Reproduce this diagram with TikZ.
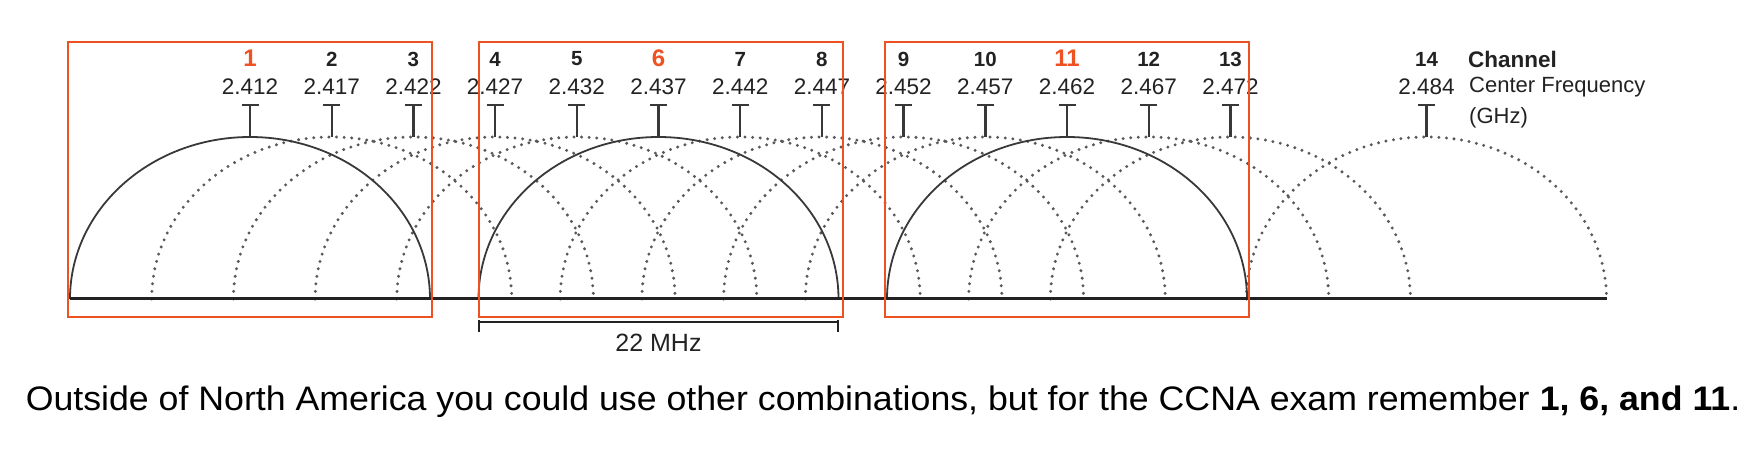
\documentclass[tikz,border=0pt]{standalone}
\usepackage{fontspec}
\setmainfont{Liberation Sans}
\definecolor{chanred}{RGB}{238,82,34}
\definecolor{ink}{RGB}{34,34,34}

\begin{document}
\begin{tikzpicture}[x=1pt,y=1pt,
  lobe/.style={ink!90, line width=1.8pt},
  sidelobe/.style={black!65, line width=3.3pt, line cap=round, dash pattern=on 0pt off 7.6pt},
  tmark/.style={ink!90, line width=2.4pt},
  chnum/.style={font=\fontsize{20.5}{22}\selectfont\bfseries, text=ink, inner sep=0pt},
  chpick/.style={font=\fontsize{24}{26}\selectfont\bfseries, text=chanred, inner sep=0pt},
  chfreq/.style={font=\fontsize{22.5}{24}\selectfont, text=ink, inner sep=0pt},
  pick/.style={draw=chanred, line width=2.4pt}]
\useasboundingbox (0,0) rectangle (1760,449);
% overlapping channels (dotted)
\draw[sidelobe] (151.7,150) arc[start angle=180, end angle=0, x radius=180, y radius=162];
\draw[sidelobe] (233.4,150) arc[start angle=180, end angle=0, x radius=180, y radius=162];
\draw[sidelobe] (315.1,150) arc[start angle=180, end angle=0, x radius=180, y radius=162];
\draw[sidelobe] (396.8,150) arc[start angle=180, end angle=0, x radius=180, y radius=162];
\draw[sidelobe] (560.2,150) arc[start angle=180, end angle=0, x radius=180, y radius=162];
\draw[sidelobe] (641.9,150) arc[start angle=180, end angle=0, x radius=180, y radius=162];
\draw[sidelobe] (723.6,150) arc[start angle=180, end angle=0, x radius=180, y radius=162];
\draw[sidelobe] (805.3,150) arc[start angle=180, end angle=0, x radius=180, y radius=162];
\draw[sidelobe] (968.7,150) arc[start angle=180, end angle=0, x radius=180, y radius=162];
\draw[sidelobe] (1050.4,150) arc[start angle=180, end angle=0, x radius=180, y radius=162];
\draw[sidelobe] (1246.5,150) arc[start angle=180, end angle=0, x radius=180, y radius=162];
% channels 1, 6, 11
\draw[lobe] (70,150) arc[start angle=180, end angle=0, x radius=180, y radius=162];
\draw[lobe] (478.5,150) arc[start angle=180, end angle=0, x radius=180, y radius=162];
\draw[lobe] (887,150) arc[start angle=180, end angle=0, x radius=180, y radius=162];
% axis
\draw[ink, line width=3pt] (70,150) -- (1606.5,150);
% center marks
\draw[tmark] (250,312) -- (250,344) (241.5,344) -- (258.5,344);
\draw[tmark] (331.7,312) -- (331.7,344) (323.2,344) -- (340.2,344);
\draw[tmark] (413.4,312) -- (413.4,344) (404.9,344) -- (421.9,344);
\draw[tmark] (495.1,312) -- (495.1,344) (486.6,344) -- (503.6,344);
\draw[tmark] (576.8,312) -- (576.8,344) (568.3,344) -- (585.3,344);
\draw[tmark] (658.5,312) -- (658.5,344) (650,344) -- (667,344);
\draw[tmark] (740.2,312) -- (740.2,344) (731.7,344) -- (748.7,344);
\draw[tmark] (821.9,312) -- (821.9,344) (813.4,344) -- (830.4,344);
\draw[tmark] (903.6,312) -- (903.6,344) (895.1,344) -- (912.1,344);
\draw[tmark] (985.3,312) -- (985.3,344) (976.8,344) -- (993.8,344);
\draw[tmark] (1067,312) -- (1067,344) (1058.5,344) -- (1075.5,344);
\draw[tmark] (1148.7,312) -- (1148.7,344) (1140.2,344) -- (1157.2,344);
\draw[tmark] (1230.4,312) -- (1230.4,344) (1221.9,344) -- (1238.9,344);
\draw[tmark] (1426.5,312) -- (1426.5,344) (1418,344) -- (1435,344);
% channel numbers
\node[chpick] (ch1) at (250,391) {1};
\node[chnum] (ch2) at (331.7,390) {2};
\node[chnum] (ch3) at (413.4,390) {3};
\node[chnum] (ch4) at (495.1,390) {4};
\node[chnum] (ch5) at (576.8,390) {5};
\node[chpick] (ch6) at (658.5,391) {6};
\node[chnum] (ch7) at (740.2,390) {7};
\node[chnum] (ch8) at (821.9,390) {8};
\node[chnum] (ch9) at (903.6,390) {9};
\node[chnum] (ch10) at (985.3,390) {10};
\node[chpick] (ch11) at (1067,391) {11};
\node[chnum] (ch12) at (1148.7,390) {12};
\node[chnum] (ch13) at (1230.4,390) {13};
\node[chnum] (ch14) at (1426.5,390) {14};
% center frequencies
\node[chfreq] (f1) at (250,362) {2.412};
\node[chfreq] (f2) at (331.7,362) {2.417};
\node[chfreq] (f3) at (413.4,362) {2.422};
\node[chfreq] (f4) at (495.1,362) {2.427};
\node[chfreq] (f5) at (576.8,362) {2.432};
\node[chfreq] (f6) at (658.5,362) {2.437};
\node[chfreq] (f7) at (740.2,362) {2.442};
\node[chfreq] (f8) at (821.9,362) {2.447};
\node[chfreq] (f9) at (903.6,362) {2.452};
\node[chfreq] (f10) at (985.3,362) {2.457};
\node[chfreq] (f11) at (1067,362) {2.462};
\node[chfreq] (f12) at (1148.7,362) {2.467};
\node[chfreq] (f13) at (1230.4,362) {2.472};
\node[chfreq] (f14) at (1426.5,362) {2.484};
% legend
\node[chnum, font=\fontsize{22.5}{24}\selectfont\bfseries, anchor=west] (chkey) at (1468,390) {Channel};
\node[chfreq, font=\fontsize{22}{24}\selectfont, anchor=west] (fkey) at (1469,362) {Center Frequency};
\node[chfreq, font=\fontsize{22}{24}\selectfont, anchor=west] (ghz) at (1469,331) {(GHz)};
% non-overlapping picks
\draw[pick] (68,132) rectangle (432,407);
\draw[pick] (479,132) rectangle (843,407);
\draw[pick] (885,132) rectangle (1249,407);
% channel width
\draw[ink, line width=1.8pt] (479,117) -- (479,129) (479,127) -- (838,127) (838,117) -- (838,129);
\node[chfreq, font=\fontsize{25}{27}\selectfont] (bw) at (658.5,106) {22 MHz};
% caption
\node[font=\fontsize{34}{38}\selectfont, text=black, inner sep=0pt, xscale=1.05] (note) at (883,47)
  {Outside of North America you could use other combinations, but for the CCNA exam remember \textbf{1, 6, and 11}.};
\end{tikzpicture}
\end{document}
